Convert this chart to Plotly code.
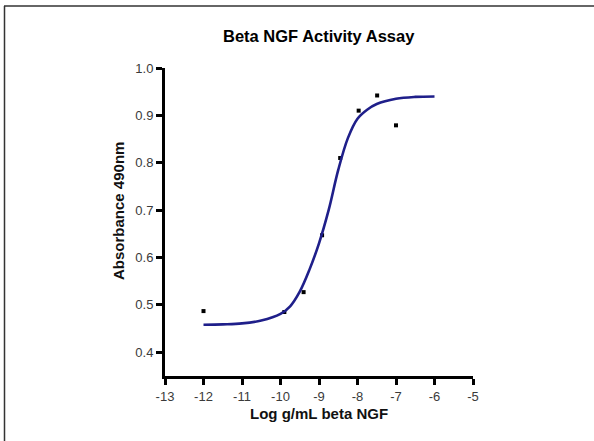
import plotly.graph_objects as go

# Measured data points
dose_log = [-12.0, -9.9, -9.4, -8.92, -8.45, -7.97, -7.49, -7.0]
absorbance = [0.487, 0.485, 0.527, 0.647, 0.810, 0.910, 0.942, 0.879]

# Fitted curve
curve_x = [-12.0, -11.5, -11.0, -10.5, -10.0, -9.75, -9.5, -9.25, -9.0, -8.75,
           -8.5, -8.25, -8.0, -7.75, -7.5, -7.0, -6.5, -6.0]
curve_y = [0.458, 0.459, 0.461, 0.467, 0.481, 0.497, 0.528, 0.574, 0.630, 0.700,
           0.785, 0.852, 0.893, 0.912, 0.924, 0.935, 0.939, 0.940]

x_ticks = [-13, -12, -11, -10, -9, -8, -7, -6, -5]
x_tick_text = ["-13", "-12", "-11", "-10", "-9", "-8", "-7", "-6", "-5"]
y_ticks = [0.4, 0.5, 0.6, 0.7, 0.8, 0.9, 1.0]
y_tick_text = ["0.4", "0.5", "0.6", "0.7", "0.8", "0.9", "1.0"]

W, H = 594, 441
L, R, T, B = 165, 121, 68, 65
PW, PH = W - L - R, H - T - B

def px(x):
    return (x - L) / PW

def py(y):
    return (H - B - y) / PH

fig = go.Figure()
fig.add_trace(go.Scatter(
    x=dose_log, y=absorbance, mode="markers",
    marker=dict(symbol="square", size=4, color="black"),
    showlegend=False, hoverinfo="skip"))
fig.add_trace(go.Scatter(
    x=curve_x, y=curve_y, mode="lines", line_shape="spline",
    line=dict(color="#1f1f8a", width=2.6),
    showlegend=False, hoverinfo="skip"))

axis_font = dict(family="Liberation Sans, Arial, sans-serif", size=13, color="#3a3a3a")

fig.update_layout(
    width=W, height=H,
    margin=dict(l=L, r=R, t=T, b=B),
    paper_bgcolor="white", plot_bgcolor="white",
    xaxis=dict(range=[-13, -5], tickvals=x_ticks, ticktext=x_tick_text,
               showline=True, linecolor="black", linewidth=3,
               ticks="outside", ticklen=6, tickwidth=3, tickcolor="black",
               showgrid=False, zeroline=False, tickfont=axis_font),
    yaxis=dict(range=[0.35, 1.0], tickvals=y_ticks, ticktext=y_tick_text,
               showline=True, linecolor="black", linewidth=3,
               ticks="outside", ticklen=6, tickwidth=3, tickcolor="black",
               showgrid=False, zeroline=False, tickfont=axis_font),
    annotations=[
        dict(text="<b>Beta NGF Activity Assay</b>", x=px(319), y=py(36),
             xref="paper", yref="paper", showarrow=False,
             xanchor="center", yanchor="middle",
             font=dict(family="Liberation Sans, Arial, sans-serif", size=16.5, color="black")),
        dict(text="<b>Log g/mL beta NGF</b>", x=px(319), y=py(413),
             xref="paper", yref="paper", showarrow=False,
             xanchor="center", yanchor="middle",
             font=dict(family="Liberation Sans, Arial, sans-serif", size=15, color="#111111")),
        dict(text="<b>Absorbance 490nm</b>", x=px(118), y=py(211), textangle=-90,
             xref="paper", yref="paper", showarrow=False,
             xanchor="center", yanchor="middle",
             font=dict(family="Liberation Sans, Arial, sans-serif", size=15, color="#111111")),
    ],
    shapes=[
        dict(type="line", xref="paper", yref="paper", x0=px(4), x1=px(W),
             y0=py(6), y1=py(6), line=dict(color="#333333", width=1.5)),
        dict(type="line", xref="paper", yref="paper", x0=px(4.5), x1=px(4.5),
             y0=py(6), y1=py(H), line=dict(color="#333333", width=1.5)),
    ],
)

fig.write_html("out.html", config={"displayModeBar": False, "staticPlot": True},
               post_script="document.body.style.margin='0px';document.body.style.overflow='hidden';")
